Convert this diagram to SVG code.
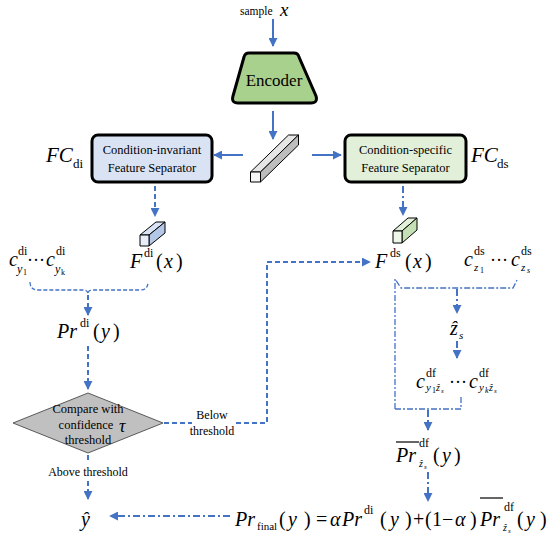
<svg xmlns="http://www.w3.org/2000/svg" width="550" height="540" viewBox="0 0 550 540" font-family="Times New Roman, Liberation Serif, serif">
<defs>
<marker id="ah" viewBox="0 0 10 10" refX="9" refY="5" markerWidth="9" markerHeight="9" markerUnits="userSpaceOnUse" orient="auto">
<path d="M0,0 L10,5 L0,10 z" fill="#4472c4"/>
</marker>
</defs>
<style>
text{font-family:"Times New Roman","Liberation Serif",Times,serif;fill:#000}
.it{font-style:italic}
.lbl{font-size:12px}
.m{font-size:20px}
.sup{font-size:12px}
.box{stroke:#000;stroke-width:3}
.a{fill:none;stroke:#4472c4;stroke-width:2;marker-end:url(#ah)}
.dash{fill:none;stroke:#4472c4;stroke-width:2;stroke-dasharray:5,3}
.dd{fill:none;stroke:#4472c4;stroke-width:2;stroke-dasharray:7,3,2,3}
.br1{fill:none;stroke:#4472c4;stroke-width:1.3;stroke-dasharray:4,2}
.br2{fill:none;stroke:#4472c4;stroke-width:1.3;stroke-dasharray:6,2,2,2}
.cub{stroke:#000;stroke-width:1;stroke-linejoin:round}
</style>

<g id="sample">
<text x="240" y="15" font-size="11.5">sample</text>
<text x="280" y="16" class="it" font-size="19">x</text>
</g>

<g id="encoder">
<path class="box" d="M249,53 L294,53 Q298,53 299,57 L316,96 Q318,103 311,103 L238,103 Q231,103 233,96 L244,57 Q245,53 249,53 z" fill="#a9d18e"/>
<text x="274" y="86" text-anchor="middle" font-size="17">Encoder</text>
</g>

<g id="feature">
<polygon class="cub" points="250.5,172 260.5,172 298.5,135 288.5,135" fill="#e6e6e6"/>
<polygon class="cub" points="260.5,172 260.5,182 298.5,145 298.5,135" fill="#bdbdbd"/>
<rect class="cub" x="250.5" y="172" width="10" height="10" fill="#f5f5f5"/>
</g>

<g id="fc-di">
<rect class="box" x="92" y="135" width="120" height="47" rx="6" fill="#dae3f3"/>
<text x="152" y="154" text-anchor="middle" font-size="12.5">Condition-invariant</text>
<text x="152" y="172" text-anchor="middle" font-size="12.5">Feature Separator</text>
<text x="46" y="162" class="it" font-size="21">FC</text>
<text x="73" y="168" font-size="13">di</text>
</g>

<g id="fc-ds">
<rect class="box" x="345" y="135" width="121" height="47" rx="6" fill="#e2f0d9"/>
<text x="405.5" y="154" text-anchor="middle" font-size="12.5">Condition-specific</text>
<text x="405.5" y="172" text-anchor="middle" font-size="12.5">Feature Separator</text>
<text x="471" y="162" class="it" font-size="21">FC</text>
<text x="497" y="168" font-size="13">ds</text>
</g>

<g id="f-di">
<polygon class="cub" points="140,235 149,235 165,222 156,222" fill="#dae3f3"/>
<polygon class="cub" points="149,235 149,246 165,233 165,222" fill="#b4c7e7"/>
<rect class="cub" x="140" y="235" width="9" height="11" fill="#e8eef9"/>
<text x="130" y="268" class="it m">F</text>
<text x="144" y="257" class="sup">di</text>
<text y="268" class="m"><tspan x="156">(</tspan><tspan x="164" class="it">x</tspan><tspan x="176">)</tspan></text>
</g>

<g id="c-di">
<text x="9" y="266" class="it m">c</text>
<text x="18" y="255" class="sup">di</text>
<text x="17" y="273" class="it" font-size="12">y</text>
<text x="23" y="275" font-size="8">1</text>
<text x="27" y="266" font-size="18">···</text>
<text x="46" y="266" class="it m">c</text>
<text x="56" y="255" class="sup">di</text>
<text x="55" y="273" class="it" font-size="12">y</text>
<text x="61" y="275" font-size="8">k</text>
</g>

<g id="pr-di">
<text x="57" y="338" class="it m">Pr</text>
<text x="80" y="327" class="sup">di</text>
<text y="338" class="m"><tspan x="93">(</tspan><tspan x="101" class="it">y</tspan><tspan x="113">)</tspan></text>
</g>

<g id="compare">
<polygon points="88,393 163,423 88,453 13,423" fill="#c0c0c0" stroke="#595959" stroke-width="1"/>
<text x="88" y="413" text-anchor="middle" font-size="12.5">Compare with</text>
<text x="86" y="429" text-anchor="middle" font-size="12.5">confidence</text>
<text x="88" y="444" text-anchor="middle" font-size="12.5">threshold</text>
<text x="119" y="432" class="it" font-size="18">τ</text>
</g>

<g id="below-label">
<text x="212" y="419" text-anchor="middle" class="lbl">Below</text>
<text x="212" y="435" text-anchor="middle" class="lbl">threshold</text>
</g>
<g id="above-label">
<text x="88" y="476" text-anchor="middle" class="lbl">Above threshold</text>
</g>

<g id="f-ds">
<polygon class="cub" points="393,231 402,231 417,218 408,218" fill="#e2f0d9"/>
<polygon class="cub" points="402,231 402,243 417,230 417,218" fill="#c5e0b4"/>
<rect class="cub" x="393" y="231" width="9" height="12" fill="#eef7e8"/>
<text x="375" y="268" class="it m">F</text>
<text x="390" y="257" class="sup">ds</text>
<text y="268" class="m"><tspan x="405">(</tspan><tspan x="413" class="it">x</tspan><tspan x="425">)</tspan></text>
</g>

<g id="c-ds">
<text x="464" y="266" class="it m">c</text>
<text x="474" y="255" class="sup">ds</text>
<text x="474" y="271" class="it" font-size="11">z</text>
<text x="480" y="273" font-size="8">1</text>
<text x="490" y="266" font-size="18">···</text>
<text x="511" y="266" class="it m">c</text>
<text x="521" y="255" class="sup">ds</text>
<text x="521" y="271" class="it" font-size="11">z</text>
<text x="527" y="273" font-size="8" class="it">s</text>
</g>

<g id="z-hat">
<text x="450" y="335" class="it m">ẑ</text>
<text x="459" y="339" class="it" font-size="11">s</text>
</g>

<g id="c-df">
<text x="416" y="388" class="it m">c</text>
<text x="426" y="377" class="sup">df</text>
<text x="426" y="391" class="it" font-size="11">y</text>
<text x="432" y="393" font-size="8">1</text>
<text x="436" y="391" class="it" font-size="10">ẑ</text>
<text x="441" y="393" class="it" font-size="7">s</text>
<text x="449" y="388" font-size="18">···</text>
<text x="469" y="388" class="it m">c</text>
<text x="479" y="377" class="sup">df</text>
<text x="479" y="391" class="it" font-size="11">y</text>
<text x="485" y="393" font-size="8" class="it">k</text>
<text x="489" y="391" class="it" font-size="10">ẑ</text>
<text x="494" y="393" class="it" font-size="7">s</text>
</g>

<g id="pr-df">
<line x1="396" y1="442" x2="419" y2="442" stroke="#000" stroke-width="1.2"/>
<text x="396" y="462" class="it m">Pr</text>
<text x="419" y="447" class="sup">df</text>
<text x="419" y="467" class="it" font-size="10">ẑ</text>
<text x="424" y="469" class="it" font-size="7">s</text>
<text y="462" class="m"><tspan x="433">(</tspan><tspan x="442" class="it">y</tspan><tspan x="454">)</tspan></text>
</g>

<g id="y-hat">
<text x="81" y="526" class="it m">ŷ</text>
</g>

<g id="final">
<text x="235" y="526" class="it m">Pr</text>
<text x="257" y="530" font-size="11">final</text>
<text y="526" class="m"><tspan x="279">(</tspan><tspan x="288" class="it">y</tspan><tspan x="304">)</tspan></text>
<text x="316" y="526" class="m">=</text>
<text x="330" y="526" class="it m">α</text>
<text x="342" y="526" class="it m">Pr</text>
<text x="364" y="514" class="sup">di</text>
<text y="526" class="m"><tspan x="380">(</tspan><tspan x="390" class="it">y</tspan><tspan x="405">)</tspan><tspan x="413">+</tspan><tspan x="425">(</tspan><tspan x="432">1</tspan><tspan x="442">−</tspan><tspan x="455" class="it">α</tspan><tspan x="470">)</tspan></text>
<line x1="480" y1="498" x2="503" y2="498" stroke="#000" stroke-width="1.2"/>
<text x="480" y="526" class="it m">Pr</text>
<text x="504" y="511" class="sup">df</text>
<text x="503" y="531" class="it" font-size="10">ẑ</text>
<text x="508" y="533" class="it" font-size="7">s</text>
<text y="526" class="m"><tspan x="517">(</tspan><tspan x="526" class="it">y</tspan><tspan x="540">)</tspan></text>
</g>

<g id="connectors">
<path class="a" d="M273,19 L273,46"/>
<path class="a" d="M273,111 L273,139"/>
<path class="a" d="M243,155 L214,155"/>
<path class="a" d="M312,155 L341,155"/>
<path class="dash" d="M155,186 L155,216" marker-end="url(#ah)"/>
<path class="dd" d="M403,186 L403,215" marker-end="url(#ah)"/>
<path class="br1" d="M30,282 Q30,290 38,290 L83,290 Q88,290 88,294 Q88,290 93,290 L140,290 Q148,290 148,282"/>
<path class="dash" d="M88,295 L88,315" marker-end="url(#ah)"/>
<path class="dash" d="M88,346 L88,389" marker-end="url(#ah)"/>
<path class="dash" d="M88,455 L88,463"/>
<path class="dash" d="M88,481 L88,499" marker-end="url(#ah)"/>
<path class="dash" d="M164,423 L192,423"/>
<path class="dash" d="M236,423 L267,423 L267,262 L370,262" marker-end="url(#ah)"/>
<path class="br2" d="M395,409 L395,279 L401,288 L513,288 L517,280"/>
<path class="br2" d="M395,409 L461,409 L461,397"/>
<path class="dd" d="M457,289 L457,313" marker-end="url(#ah)"/>
<path class="dd" d="M457,341 L457,358" marker-end="url(#ah)"/>
<path class="dd" d="M428,410 L428,430" marker-end="url(#ah)"/>
<path class="dd" d="M428,472 L428,501" marker-end="url(#ah)"/>
<path class="dd" d="M230,516 L110,516" marker-end="url(#ah)"/>
</g>
</svg>
